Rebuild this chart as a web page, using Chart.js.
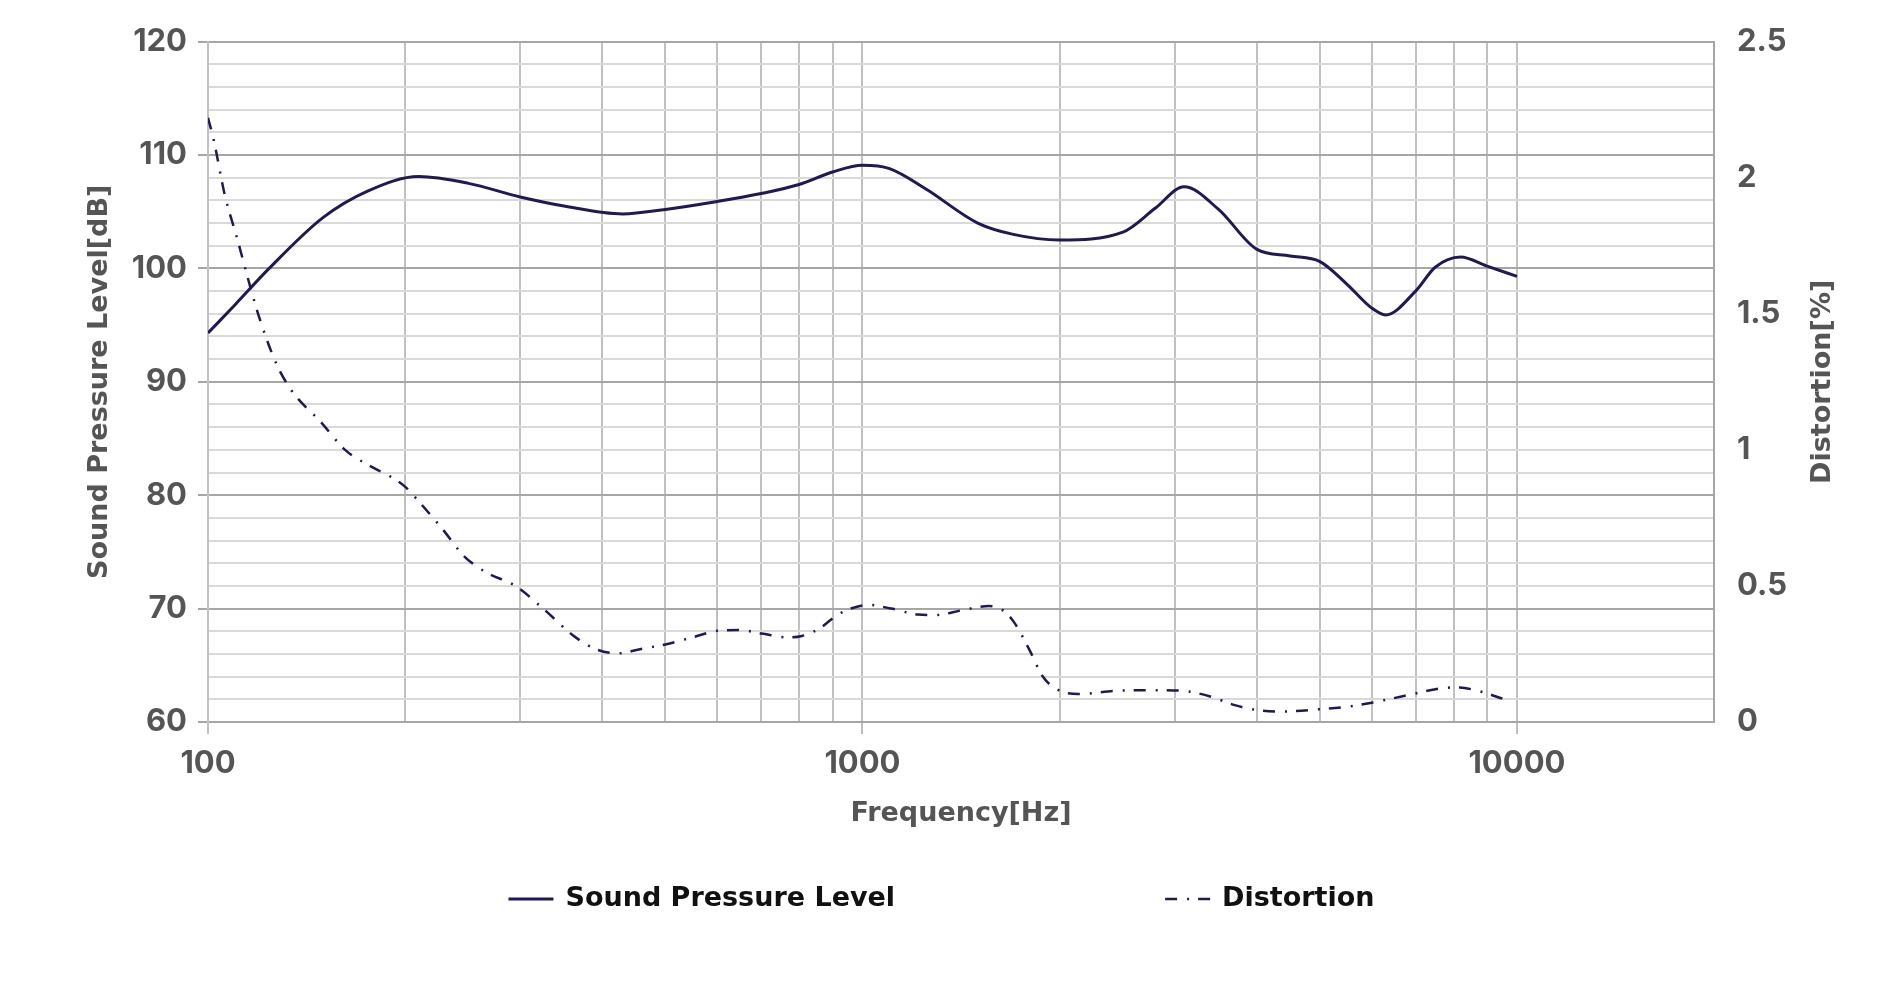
<!DOCTYPE html>
<html><head><meta charset="utf-8">
<script src="https://cdn.jsdelivr.net/npm/chart.js@4.4.1/dist/chart.umd.min.js"></script>
<style>html,body{margin:0;padding:0;background:#fff;} #wrap{width:1883px;height:993px;}</style>
</head><body><div id="wrap"><canvas id="c" width="1883" height="993"></canvas></div>
<script>
// ---- data ----
const splFreq   = [100, 110, 124, 150, 175, 210, 250, 300, 350, 430, 500, 600, 700, 800, 900, 1000, 1100, 1250, 1500, 1700, 2000, 2500, 2800, 3100, 3500, 4000, 4500, 5000, 5500, 6000, 6300, 7000, 7500, 8200, 9000, 10000];
const splValues = [94.3, 96.8, 100.0, 104.5, 106.8, 108.1, 107.5, 106.3, 105.5, 104.8, 105.2, 105.9, 106.6, 107.4, 108.5, 109.1, 108.8, 107.0, 104.0, 103.0, 102.5, 103.2, 105.3, 107.2, 105.2, 101.7, 101.1, 100.6, 98.6, 96.5, 95.9, 98.0, 100.1, 101.0, 100.2, 99.3];

const distFreq   = [100, 102, 106, 111, 116, 120, 127, 134, 149, 162, 177, 189, 200, 210, 228, 246, 266, 295, 324, 365, 394, 423, 462, 500, 554, 600, 648, 701, 770, 808, 860, 915, 960, 1022, 1106, 1215, 1294, 1421, 1562, 1637, 1703, 1800, 1887, 1994, 2138, 2463, 2883, 3168, 3426, 3705, 4000, 4336, 4994, 5489, 6000, 6465, 7000, 7660, 8178, 8617, 9000, 9700];
const distValues = [2.22, 2.14, 1.94, 1.77, 1.60, 1.48, 1.32, 1.22, 1.10, 1.00, 0.94, 0.905, 0.865, 0.81, 0.71, 0.61, 0.55, 0.50, 0.42, 0.31, 0.265, 0.252, 0.27, 0.285, 0.313, 0.335, 0.338, 0.325, 0.311, 0.316, 0.344, 0.393, 0.417, 0.43, 0.417, 0.395, 0.393, 0.411, 0.426, 0.411, 0.368, 0.264, 0.166, 0.117, 0.103, 0.115, 0.117, 0.111, 0.091, 0.062, 0.044, 0.038, 0.047, 0.056, 0.071, 0.087, 0.105, 0.124, 0.127, 0.1175, 0.105, 0.078];

const xGridFreqs  = [100, 200, 300, 400, 500, 600, 700, 800, 900, 1000, 2000, 3000, 4000, 5000, 6000, 7000, 8000, 9000, 10000, 20000];
const xTickLabels = [100, 1000, 10000];
const splRange  = [60, 120];
const distRange = [0, 2.5];

const seriesNames = ['Sound Pressure Level', 'Distortion'];
const titles = { x: 'Frequency[Hz]', y: 'Sound Pressure Level[dB]', y1: 'Distortion[%]' };

// ---- chart ----
const LINE = '#1f1a4f';
const TICK_FONT = { family: 'Inter, "Liberation Sans", sans-serif', size: 31, weight: 'bold' };
const TITLE_FONT = { family: '"DejaVu Sans", sans-serif', size: 27, weight: 'bold' };

const extraText = {
  id: 'extraText',
  afterDraw(chart) {
    const ctx = chart.ctx;
    const area = chart.chartArea;
    const y1 = chart.scales.y1;
    ctx.save();
    ctx.fillStyle = '#555555';
    ctx.font = 'bold 27px "DejaVu Sans"';
    ctx.textAlign = 'center';
    ctx.textBaseline = 'middle';
    ctx.translate(y1.left + 109, (area.top + area.bottom) / 2);
    ctx.rotate(-Math.PI / 2);
    ctx.fillText(titles.y1, 0, 0);
    ctx.restore();

    // legend
    ctx.save();
    ctx.font = 'bold 27px "DejaVu Sans"';
    const sample = 45, sGap = 12, itemGap = 270;
    const items = chart.data.datasets.map(ds => ({ ds, w: sample + sGap + ctx.measureText(ds.label).width }));
    const total = items.reduce((a, it) => a + it.w, 0) + itemGap * (items.length - 1);
    let x = (chart.width - total) / 2;
    const y = chart.height - 94;
    items.forEach(it => {
      const ds = it.ds;
      ctx.beginPath();
      ctx.setLineDash(ds.borderDash || []);
      ctx.lineWidth = ds.borderWidth;
      ctx.strokeStyle = ds.borderColor;
      ctx.moveTo(x, y);
      ctx.lineTo(x + sample, y);
      ctx.stroke();
      ctx.setLineDash([]);
      ctx.fillStyle = '#111111';
      ctx.textAlign = 'left';
      ctx.textBaseline = 'middle';
      ctx.fillText(ds.label, x + sample + sGap, y);
      x += it.w + itemGap;
    });
    ctx.restore();
  }
};

function build() {
  new Chart(document.getElementById('c'), {
    type: 'line',
    data: {
      datasets: [
        {
          label: seriesNames[0],
          data: splFreq.map((f, i) => ({ x: f, y: splValues[i] })),
          yAxisID: 'y',
          borderColor: LINE, borderWidth: 3,
          pointRadius: 0, fill: false,
          cubicInterpolationMode: 'monotone'
        },
        {
          label: seriesNames[1],
          data: distFreq.map((f, i) => ({ x: f, y: distValues[i] })),
          yAxisID: 'y1',
          borderColor: LINE, borderWidth: 2.5,
          borderDash: [12, 10, 2, 9],
          pointRadius: 0, fill: false,
          cubicInterpolationMode: 'monotone'
        }
      ]
    },
    options: {
      responsive: false,
      animation: false,
      devicePixelRatio: 1,
      layout: { padding: { top: 41, left: 0, right: 0, bottom: 151 } },
      plugins: { legend: { display: false }, tooltip: { enabled: false } },
      scales: {
        x: {
          type: 'logarithmic',
          min: 100, max: 20000,
          afterBuildTicks(scale) { scale.ticks = xGridFreqs.map(v => ({ value: v })); },
          afterFit(scale) { scale.height = 120; },
          ticks: {
            autoSkip: false, maxRotation: 0, minRotation: 0,
            padding: 11, color: '#555555', font: TICK_FONT,
            callback: (v) => xTickLabels.includes(v) ? String(v) : ''
          },
          grid: {
            color: '#c0c0c0', lineWidth: 2,
            tickLength: 12, tickWidth: 2,
            tickColor: (c) => (c.tick && xTickLabels.includes(c.tick.value)) ? '#c0c0c0' : 'rgba(0,0,0,0)'
          },
          border: { color: '#a6a6a6', width: 2 },
          title: { display: true, text: titles.x, color: '#555555', font: TITLE_FONT, padding: { top: 0, bottom: 12 } }
        },
        y: {
          position: 'left',
          min: splRange[0], max: splRange[1],
          afterFit(scale) { scale.width = 208; },
          ticks: {
            stepSize: 2, autoSkip: false, padding: 11, color: '#555555', font: TICK_FONT,
            callback: (v) => (v % 10 === 0) ? String(v) : ''
          },
          grid: {
            color: (c) => (c.tick && c.tick.value % 10 === 0) ? '#a6a6a6' : '#d9d9d9',
            lineWidth: 2, tickLength: 10, tickWidth: 2,
            tickColor: (c) => (c.tick && c.tick.value % 10 === 0) ? '#a6a6a6' : 'rgba(0,0,0,0)'
          },
          border: { color: '#c0c0c0', width: 2 },
          title: { display: true, text: titles.y, color: '#555555', font: TITLE_FONT, padding: { top: 84, bottom: 0 } }
        },
        y1: {
          position: 'right',
          min: distRange[0], max: distRange[1],
          afterFit(scale) { scale.width = 169; },
          ticks: {
            stepSize: 0.5, autoSkip: false, padding: 23, color: '#555555', font: TICK_FONT,
            callback: (v) => String(v)
          },
          grid: { drawOnChartArea: false, drawTicks: false },
          border: { color: '#a6a6a6', width: 2 }
        }
      }
    },
    plugins: [extraText]
  });
}

Promise.all([
  document.fonts.load('bold 31px Inter'),
  document.fonts.load('bold 27px "DejaVu Sans"')
]).then(build, build);
</script>
</body></html>
